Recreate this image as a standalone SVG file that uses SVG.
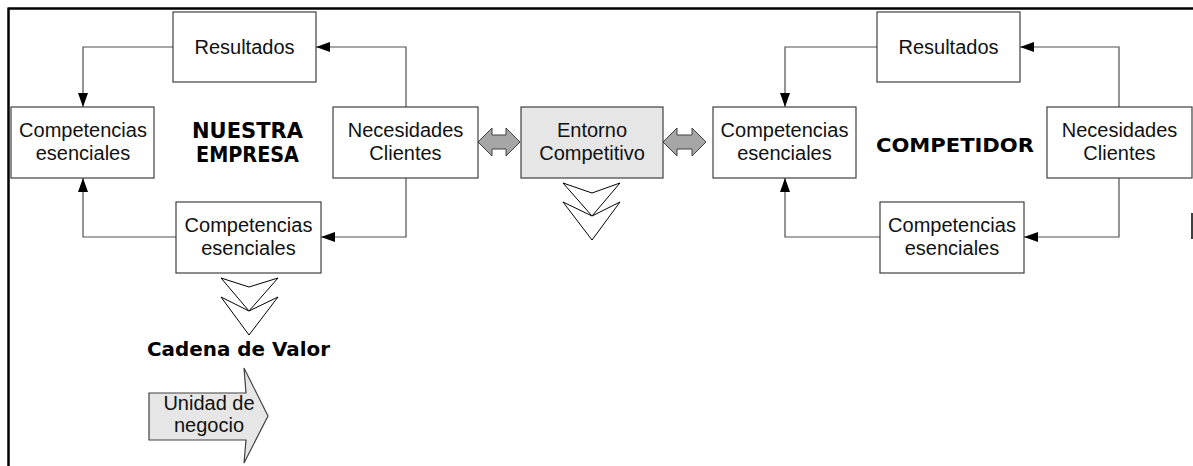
<svg xmlns="http://www.w3.org/2000/svg" width="1193" height="466" viewBox="0 0 1193 466">
<style>
.box{fill:#fff;stroke:#404040;stroke-width:1.2}
.grey{fill:#e6e6e6;stroke:#404040;stroke-width:1.2}
.t{font-family:"Liberation Sans",Arial,sans-serif;font-size:20px;fill:#111;text-anchor:middle}
.c{font-family:"DejaVu Sans",sans-serif;font-weight:bold;fill:#000;text-anchor:middle}
.ln{fill:none;stroke:#505050;stroke-width:1.2}
.chev{fill:#fff;stroke:#000;stroke-width:1}
.dbl{fill:#a6a6a6;stroke:#404040;stroke-width:1}
.frame{stroke:#000;fill:none}
</style>
<defs>
<marker id="ah" markerUnits="userSpaceOnUse" markerWidth="14" markerHeight="10" refX="14" refY="5" orient="auto">
<path d="M0,0 L14,5 L0,10 z" fill="#000"/>
</marker>
</defs>
<rect width="1193" height="466" fill="#fff"/>
<g id="frame">
<line class="frame" x1="8.5" y1="8.5" x2="1193" y2="8.5" stroke-width="2.5"/>
<line class="frame" x1="8.5" y1="7.5" x2="8.5" y2="466" stroke-width="2.5"/>
<line class="frame" x1="1192" y1="213" x2="1192" y2="239" stroke-width="1.5"/>
</g>
<g id="connectors">
<path class="ln" d="M173,47 H83 V107" marker-end="url(#ah)"/>
<path class="ln" d="M406,107 V47 H316" marker-end="url(#ah)"/>
<path class="ln" d="M406,178 V237 H321" marker-end="url(#ah)"/>
<path class="ln" d="M176,237 H83 V178" marker-end="url(#ah)"/>
<path class="ln" d="M877,47 H785 V107" marker-end="url(#ah)"/>
<path class="ln" d="M1119,107 V47 H1020" marker-end="url(#ah)"/>
<path class="ln" d="M1119,178 V237 H1024" marker-end="url(#ah)"/>
<path class="ln" d="M880,237 H785 V178" marker-end="url(#ah)"/>
<polygon class="dbl" points="478,142 492,128 492,135 506,135 506,128 520,142 506,156 506,149 492,149 492,156"/>
<polygon class="dbl" points="663,142 677,128 677,135 692,135 692,128 706,142 692,156 692,149 677,149 677,156"/>
<polygon class="chev" points="563,183 592,193 620,183 592,216"/>
<polygon class="chev" points="563,202 592,216 620,202 592,240"/>
<polygon class="chev" points="221,278 249,287 278,278 249,311"/>
<polygon class="chev" points="221,297 249,311 278,297 249,335"/>
</g>
<g id="res-left"><rect class="box" x="173" y="12" width="143" height="70"/><text class="t" x="244.5" y="54">Resultados</text></g>
<g id="comp-left"><rect class="box" x="11" y="107" width="143" height="71"/><text class="t" x="83" y="137">Competencias</text><text class="t" x="83" y="160">esenciales</text></g>
<g id="nec-left"><rect class="box" x="333" y="107" width="145" height="71"/><text class="t" x="405.5" y="137">Necesidades</text><text class="t" x="405.5" y="160">Clientes</text></g>
<g id="comp2-left"><rect class="box" x="176" y="202" width="145" height="71"/><text class="t" x="248.5" y="232">Competencias</text><text class="t" x="248.5" y="255">esenciales</text></g>
<g id="label-nuestra"><text class="c" x="247.5" y="137.5" font-size="21" textLength="111" lengthAdjust="spacingAndGlyphs">NUESTRA</text><text class="c" x="247.5" y="162" font-size="21" textLength="103" lengthAdjust="spacingAndGlyphs">EMPRESA</text></g>
<g id="entorno"><rect class="grey" x="521" y="107" width="142" height="71"/><text class="t" x="592" y="137" fill="#222">Entorno</text><text class="t" x="592" y="160">Competitivo</text></g>
<g id="res-right"><rect class="box" x="877" y="12" width="143" height="70"/><text class="t" x="948.5" y="54">Resultados</text></g>
<g id="comp-right"><rect class="box" x="713" y="107" width="143" height="71"/><text class="t" x="784.5" y="137">Competencias</text><text class="t" x="784.5" y="160">esenciales</text></g>
<g id="nec-right"><rect class="box" x="1047" y="107" width="145" height="71"/><text class="t" x="1119.5" y="137">Necesidades</text><text class="t" x="1119.5" y="160">Clientes</text></g>
<g id="comp2-right"><rect class="box" x="880" y="202" width="144" height="71"/><text class="t" x="952" y="232">Competencias</text><text class="t" x="952" y="255">esenciales</text></g>
<g id="label-competidor"><text class="c" x="955" y="152" font-size="20" textLength="158" lengthAdjust="spacingAndGlyphs">COMPETIDOR</text></g>
<g id="cadena"><text class="c" x="238.5" y="356" font-size="19" textLength="183" lengthAdjust="spacingAndGlyphs">Cadena de Valor</text></g>
<g id="unidad"><polygon class="grey" points="149,393 246,393 244,368 268,416 244,463 246,440 149,440"/><text class="t" x="209" y="410">Unidad de</text><text class="t" x="209" y="432">negocio</text></g>
</svg>
